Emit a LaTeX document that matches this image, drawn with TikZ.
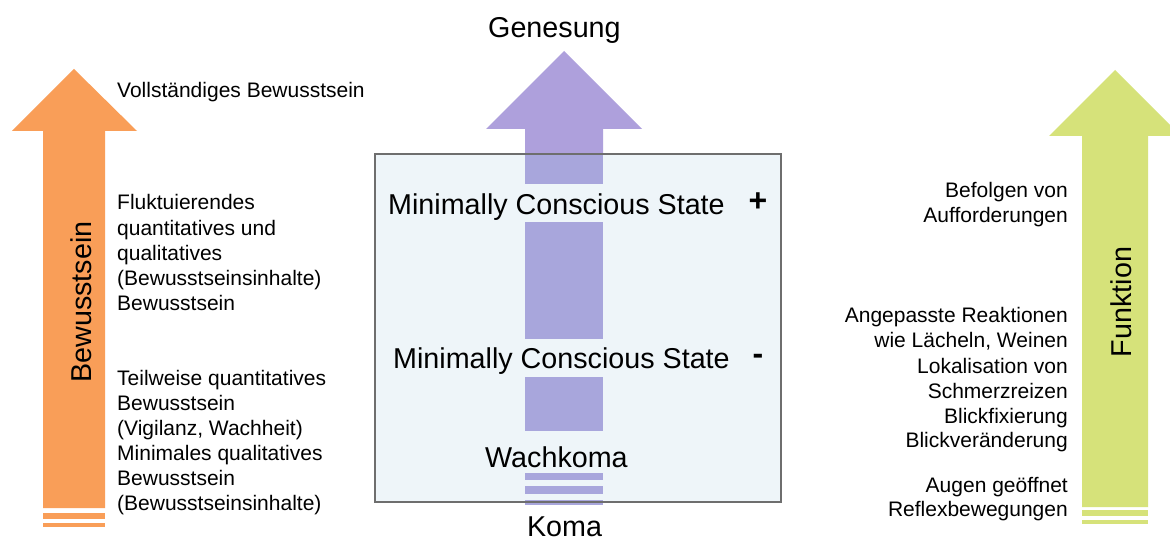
\documentclass[tikz,border=0pt]{standalone}
\usepackage{fontspec}
\setmainfont{Liberation Sans}
\definecolor{orng}{RGB}{249,158,88}
\definecolor{purp}{RGB}{174,160,220}
\definecolor{purpin}{RGB}{168,166,220}
\definecolor{grn}{RGB}{214,226,122}
\definecolor{boxfill}{RGB}{238,245,249}
\definecolor{boxline}{RGB}{110,110,110}
\tikzset{
  big/.style={font=\fontsize{28.7}{34}\selectfont, inner sep=0pt},
  small/.style={font=\fontsize{21}{25.2}\selectfont, inner sep=0pt},
  sign/.style={font=\fontsize{32}{36}\selectfont\bfseries, inner sep=0pt},
}
\begin{document}
\begin{tikzpicture}[x=1pt,y=-1pt]
\clip (0,0) rectangle (1170,537);
\fill[white] (0,0) rectangle (1170,537);

% orange arrow
\fill[orng] (43,508) -- (43,131) -- (12,131) -- (74,69) -- (137,131) -- (105,131) -- (105,508) -- cycle;
\fill[orng] (43,513) rectangle (105,519);
\fill[orng] (43,523) rectangle (105,527);

% green arrow
\fill[grn] (1082,507) -- (1082,136) -- (1049,136) -- (1115,70) -- (1181,136) -- (1148,136) -- (1148,507) -- cycle;
\fill[grn] (1082,510) rectangle (1148,516);
\fill[grn] (1082,520) rectangle (1148,524);

% centre box and purple arrow
\fill[boxfill] (375,154) rectangle (781,502);
\fill[purp] (525,154) -- (525,129) -- (486,129) -- (564,51) -- (642,129) -- (603,129) -- (603,154) -- cycle;
\fill[purpin] (525,154) rectangle (603,184);
\fill[purpin] (525,222) rectangle (603,339);
\fill[purpin] (525,377) rectangle (603,431);
\fill[purpin] (525,473) rectangle (603,480);
\fill[purpin] (525,486) rectangle (603,494);
\fill[purpin] (525,500) rectangle (603,505);
\draw[boxline, line width=1.3pt] (375,154) rectangle (781,502);

% centre texts
\node[big, anchor=base west] (gen) at (488,38) {Genesung};
\node[big, anchor=base west] (mcsp) at (388,215) {Minimally Conscious State};
\node[sign] (plus) at (758,202) {+};
\node[big, anchor=base west] (mcsm) at (393,368) {Minimally Conscious State};
\node[sign] (minus) at (758,359) {-};
\node[big, anchor=base west] (wach) at (485,467) {Wachkoma};
\node[big, anchor=base] (koma) at (564.5,536) {Koma};

% rotated labels
\node[big, rotate=90, anchor=base] (bew) at (91,302) {Bewusstsein};
\node[big, rotate=90, anchor=base] (fun) at (1131,302) {Funktion};

% left texts
\node[small, anchor=base west] (voll) at (117,98) {Vollständiges Bewusstsein};
\foreach \yy/\tt [count=\i] in {210/{Fluktuierendes}, 235.25/{quantitatives und}, 260.5/{qualitatives}, 285.75/{(Bewusstseinsinhalte)}, 311/{Bewusstsein}}
  \node[small, anchor=base west] (la\i) at (117,\yy) {\tt};
\foreach \yy/\tt [count=\i] in {385/{Teilweise quantitatives}, 410/{Bewusstsein}, 435/{(Vigilanz, Wachheit)}, 460/{Minimales qualitatives}, 485/{Bewusstsein}, 510/{(Bewusstseinsinhalte)}}
  \node[small, anchor=base west] (lb\i) at (117,\yy) {\tt};

% right texts
\foreach \yy/\tt [count=\i] in {198/{Befolgen von}, 223/{Aufforderungen}, 323/{Angepasste Reaktionen}, 347.8/{wie Lächeln, Weinen}, 373/{Lokalisation von}, 398/{Schmerzreizen}, 423/{Blickfixierung}, 447.8/{Blickveränderung}, 492/{Augen geöffnet}, 516/{Reflexbewegungen}}
  \node[small, anchor=base east] (r\i) at (1068,\yy) {\tt};
\end{tikzpicture}
\end{document}
